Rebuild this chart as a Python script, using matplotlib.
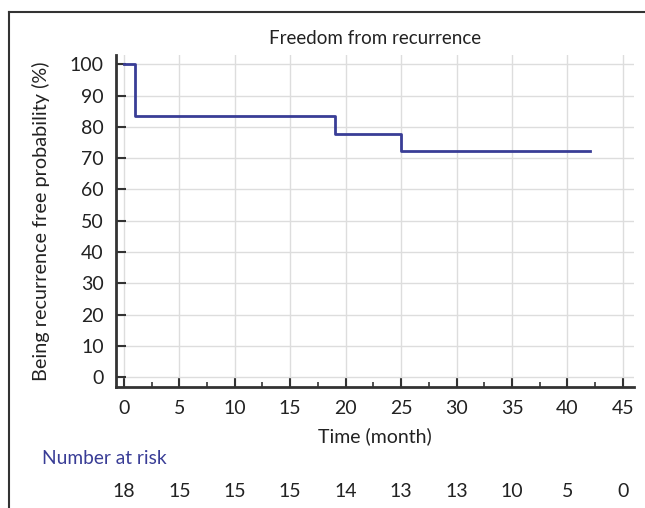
import matplotlib.pyplot as plt
from matplotlib.lines import Line2D
from matplotlib.ticker import MultipleLocator

plt.rcParams['font.family'] = ['Lato', 'DejaVu Sans']

# Kaplan-Meier steps
times = [0, 1, 19, 25, 42]
surv = [100, 83.3, 77.8, 72.2, 72.2]

risk_times = [0, 5, 10, 15, 20, 25, 30, 35, 40, 45]
at_risk = [18, 15, 15, 15, 14, 13, 13, 10, 5, 0]

blue = '#393d96'
dark = '#333333'
txt = '#222222'

fig = plt.figure(figsize=(6.45, 5.08), dpi=100)
ax = fig.add_axes([0.180, 0.238, 0.803, 0.654])

ax.step(times, surv, where='post', color=blue, lw=2)

ax.set_xlim(-0.7, 46)
ax.set_ylim(-3.2, 103)
ax.xaxis.set_major_locator(MultipleLocator(5))
ax.xaxis.set_minor_locator(MultipleLocator(2.5))
ax.yaxis.set_major_locator(MultipleLocator(10))

ax.grid(True, color='#dddddd', lw=1)
ax.set_axisbelow(True)
for s in ['top', 'right']:
    ax.spines[s].set_visible(False)
for s in ['left', 'bottom']:
    ax.spines[s].set_color(dark)
    ax.spines[s].set_linewidth(2)

ax.tick_params(axis='both', which='major', direction='in', length=7, width=1.5,
               color=dark, labelsize=14, labelcolor=txt, pad=9)
ax.tick_params(axis='x', which='minor', direction='in', length=3.5, width=1.2, color=dark)

ax.set_title('Freedom from recurrence', fontsize=13.5, color=txt, pad=8)
ax.set_xlabel('Time (month)', fontsize=14, color=txt, labelpad=8)
ax.set_ylabel('Being recurrence free probability (%)', fontsize=14.3, color=txt, labelpad=14)

# number at risk table
fig.text(0.065, 1 - 459 / 508, 'Number at risk', color=blue, fontsize=13.8, ha='left', va='center')
for t, n in zip(risk_times, at_risk):
    ax.text(t, -0.313, str(n), transform=ax.get_xaxis_transform(), ha='center', va='center',
            fontsize=14, color=txt)

# partial frame (top and left)
fig.add_artist(Line2D([0.014, 1.0], [0.976, 0.976], color=dark, lw=1.5))
fig.add_artist(Line2D([0.014, 0.014], [0.0, 0.976], color=dark, lw=1.5))

fig.savefig('out.png', dpi=100)
